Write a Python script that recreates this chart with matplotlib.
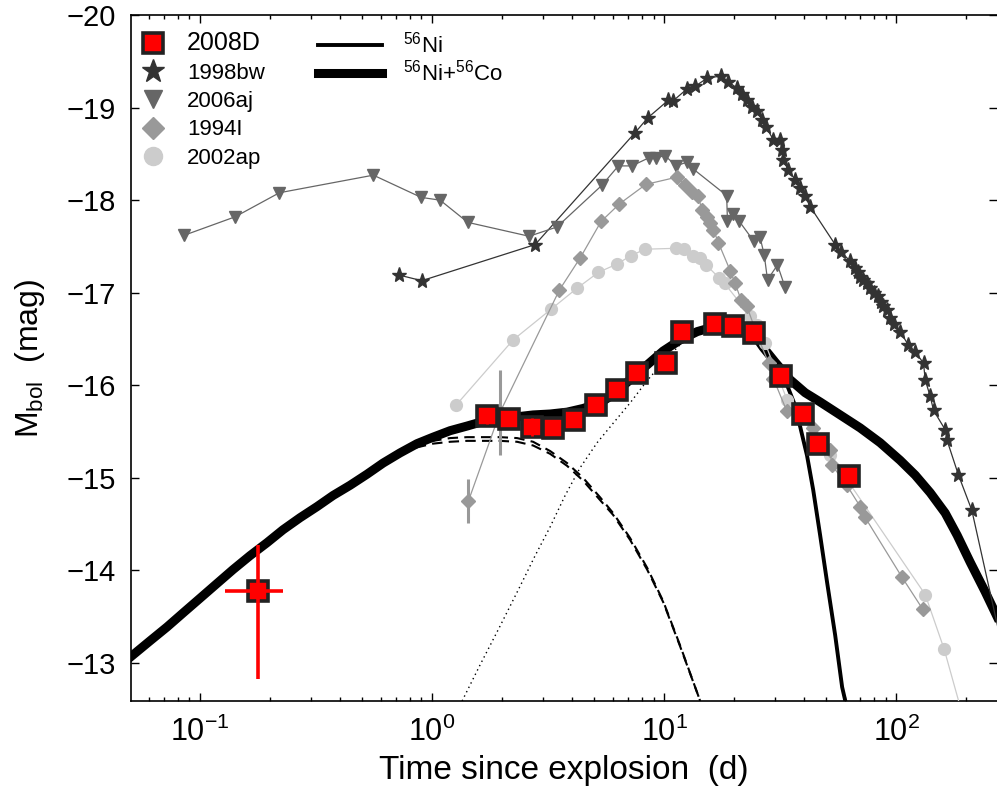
import numpy as np
import matplotlib.pyplot as plt
from matplotlib.lines import Line2D

plt.rcParams['font.family'] = ['Liberation Sans', 'DejaVu Sans']
plt.rcParams['mathtext.fontset'] = 'custom'
plt.rcParams['mathtext.rm'] = 'Liberation Sans'
plt.rcParams['mathtext.it'] = 'Liberation Sans:italic'
plt.rcParams['mathtext.bf'] = 'Liberation Sans:bold'

# SN 2008D bolometric magnitudes (days since explosion)
t_08d = [1.73, 2.15, 2.69, 3.31, 4.09, 5.08, 6.25, 7.63, 10.2, 11.9, 16.5, 19.9, 24.3, 31.8, 39.5, 46.0, 62.7]
m_08d = [-15.67, -15.64, -15.55, -15.54, -15.63, -15.79, -15.95, -16.13, -16.24,
         -16.58, -16.66, -16.64, -16.56, -16.10, -15.69, -15.37, -15.02]
e_08d = [0.09, 0, 0.1, 0.08, 0, 0, 0, 0, 0, 0, 0, 0, 0, 0, 0, 0, 0]
# first epoch (X-ray outburst)
t_first, m_first = 0.178, -13.78
t_first_err = [[0.050], [0.050]]
m_first_err = [[0.50], [0.95]]

# comparison SNe
t_98bw = [0.723, 0.903, 2.78, 7.50, 8.51, 10.43, 10.9, 12.53, 13.6, 15.37, 17.55, 18.93, 20.58, 21.6,
          22.73, 23.88, 25.1, 26.4, 27.5, 29.6, 31.6, 32.2, 32.5, 34.3, 36.7, 38.6, 40.5, 42.6, 54.6,
          58.0, 63.4, 66.6, 68.5, 70.0, 72.3, 75.0, 77.3, 80.0, 83.9, 86.0, 88.0, 91.2, 94.2, 98.0,
          104, 112.6, 120.8, 131.2, 133.4, 140.2, 144.9, 162.7, 165.5, 185.6, 211.9, 295]
m_98bw = [-17.19, -17.13, -17.52, -18.73, -18.89, -19.08, -19.07, -19.20, -19.23, -19.32, -19.34, -19.28,
          -19.21, -19.15, -19.08, -19.01, -18.96, -18.87, -18.79, -18.65, -18.65, -18.54, -18.43, -18.33,
          -18.22, -18.13, -18.04, -17.93, -17.52, -17.44, -17.34, -17.27, -17.22, -17.17, -17.14, -17.10,
          -17.05, -17.00, -16.96, -16.90, -16.86, -16.81, -16.73, -16.66, -16.58, -16.44, -16.36, -16.24,
          -16.06, -15.88, -15.73, -15.52, -15.41, -15.03, -14.65, -13.03]

t_06aj = [0.0853, 0.1416, 0.2198, 0.5585, 0.897, 1.083, 1.425, 2.62, 3.45, 5.39, 6.35, 7.26, 8.64, 9.24,
          10.1, 11.26, 12.53, 13.3, 18.6, 18.75, 19.9, 21.1, 24.3, 25.9, 27.0, 27.9, 30.8, 33.2]
m_06aj = [-17.62, -17.82, -18.08, -18.27, -18.03, -18.00, -17.76, -17.61, -17.71, -18.16, -18.37, -18.37,
          -18.46, -18.46, -18.48, -18.37, -18.41, -18.34, -18.05, -17.77, -17.85, -17.77, -17.56, -17.60,
          -17.41, -17.14, -17.30, -17.06]

t_94i = [1.434, 1.964, 3.538, 4.357, 5.35, 6.42, 8.34, 11.41, 12.32, 13.17, 14.06, 14.54, 15.28, 15.79,
         16.31, 17.14, 19.25, 20.23, 21.48, 22.68, 25.2, 28.2, 29.6, 33.8, 44.0, 51.9, 52.8, 61.3, 70.0,
         73.2, 105.8, 130.3]
m_94i = [-14.75, -15.71, -17.03, -17.38, -17.77, -17.96, -18.17, -18.25, -18.16, -18.09, -18.04, -17.89,
         -17.82, -17.75, -17.68, -17.54, -17.24, -17.10, -16.92, -16.86, -16.54, -16.24, -16.07, -15.72,
         -15.54, -15.30, -15.14, -14.92, -14.69, -14.58, -13.93, -13.58]
e_94i = [0.24, 0.46] + [0] * 30

t_02ap = [1.273, 2.234, 3.25, 4.22, 5.21, 6.26, 7.19, 8.26, 11.26, 12.23, 13.3, 14.3, 15.17, 17.27, 18.23,
          23.5, 25.2, 27.2, 33.9, 51.9, 133.4, 161, 219]
m_02ap = [-15.79, -16.49, -16.82, -17.05, -17.22, -17.31, -17.40, -17.47, -17.48, -17.47, -17.40, -17.38,
          -17.30, -17.16, -17.10, -16.75, -16.65, -16.46, -15.84, -15.25, -13.74, -13.15, -11.95]

# model light curves: 56Ni+56Co (full), shared rise of the 56Ni-only model
t_mod = [0.0504, 0.0609, 0.0721, 0.0853, 0.100, 0.1184, 0.1388, 0.1642, 0.1944, 0.2279, 0.2698, 0.3194,
         0.3743, 0.4432, 0.5246, 0.6149, 0.7278, 0.8616, 1.010, 1.196, 1.415, 1.659, 1.964, 2.325, 2.725,
         3.226, 3.818, 4.476, 5.298, 6.029, 7.136, 8.447, 9.901, 11.72, 13.88, 16.26, 18.33, 20.64, 23.49,
         26.72]
m_mod = [-13.07, -13.24, -13.39, -13.55, -13.70, -13.86, -14.01, -14.16, -14.30, -14.44, -14.57, -14.69,
         -14.81, -14.92, -15.04, -15.16, -15.27, -15.37, -15.44, -15.51, -15.56, -15.61, -15.64, -15.66,
         -15.68, -15.69, -15.71, -15.75, -15.81, -15.90, -16.06, -16.22, -16.37, -16.49, -16.58, -16.63,
         -16.66, -16.65, -16.61, -16.41]
t_co_tail = [30.09, 34.92, 40.53, 47.03, 57.37, 69.96, 85.31, 104.0, 120.8, 140.2, 162.7, 183.2, 208.4,
             241.9, 272.4]
m_co_tail = [-16.25, -16.06, -15.92, -15.82, -15.68, -15.54, -15.38, -15.19, -15.03, -14.84, -14.62,
             -14.38, -14.09, -13.77, -13.50]
t_ni_tail = [30.09, 31.6, 33.9, 36.3, 38.6, 41.3, 43.9, 47.03, 50.4, 54.6, 58.5, 60.9]
m_ni_tail = [-16.25, -16.17, -16.00, -15.81, -15.55, -15.24, -14.87, -14.38, -13.87, -13.30, -12.74, -12.55]

# envelope cooling (two runs) and 56Ni heating components
t_env = [0.7278, 0.8616, 1.010, 1.196, 1.415, 1.659, 1.964, 2.325, 2.725, 3.226, 3.818, 4.476, 5.298,
         6.029, 7.136, 8.447, 9.901, 11.72, 13.88, 14.3]
m_env_a = [-15.27, -15.35, -15.40, -15.43, -15.44, -15.44, -15.44, -15.43, -15.39, -15.29, -15.16, -15.00,
           -14.79, -14.62, -14.35, -14.03, -13.67, -13.19, -12.68, -12.59]
m_env_b = [-15.27, -15.33, -15.37, -15.39, -15.40, -15.40, -15.40, -15.39, -15.35, -15.26, -15.13, -14.97,
           -14.76, -14.60, -14.33, -14.01, -13.66, -13.18, -12.68, -12.59]
t_heat = [1.347, 1.610, 1.964, 2.395, 2.780, 3.226, 3.744, 4.345, 5.143, 6.029, 7.136, 8.447, 9.901, 11.72,
          13.88]
m_heat = [-12.59, -12.98, -13.40, -13.83, -14.16, -14.47, -14.81, -15.11, -15.38, -15.59, -15.81, -16.05,
          -16.25, -16.44, -16.57]

fig = plt.figure(figsize=(9.97, 7.89), dpi=100)
ax = fig.add_axes([131 / 997, 88 / 789, 866 / 997, 686 / 789])

# models
ax.plot(t_mod + t_co_tail, m_mod + m_co_tail, color='black', lw=6.5, zorder=2)
ax.plot(t_mod[:19], m_mod[:19], color='#c8c8c8', lw=0.5, zorder=2.1)
ax.plot(t_mod + t_ni_tail, m_mod + m_ni_tail, color='black', lw=2.8, zorder=2.2)
ax.plot(t_env, m_env_a, color='black', lw=1.5, ls=(0, (5, 3)), zorder=1.9)
ax.plot(t_env, m_env_b, color='black', lw=1.5, ls=(0, (5, 3)), zorder=1.9)
ax.plot(t_heat, m_heat, color='black', lw=1.0, ls=(0, (1, 2.5)), zorder=1.9)

# comparison objects
ax.plot(t_98bw, m_98bw, '-', color='#333333', lw=0.9, marker='*', ms=11, mec='#333333', zorder=3)
ax.plot(t_06aj, m_06aj, '-', color='#666666', lw=0.9, marker='v', ms=9, mec='#666666', zorder=3)
ax.errorbar(t_94i, m_94i, yerr=e_94i, fmt='none', ecolor='#999999', elinewidth=2.2, capsize=0, zorder=3)
ax.plot(t_94i, m_94i, '-', color='#999999', lw=0.9, marker='D', ms=7.5, mec='#999999', zorder=3)
ax.plot(t_02ap, m_02ap, '-', color='#cccccc', lw=0.9, marker='o', ms=8.5, mec='#cccccc', zorder=2.9)

# SN 2008D
ax.plot(t_08d + [t_first], m_08d + [m_first], 's', color='red', ms=15, mec='#222222', mew=2.6, zorder=5)
ax.errorbar(t_08d, m_08d, yerr=e_08d, fmt='none', ecolor='red', elinewidth=2, capsize=0, zorder=6)
ax.errorbar([t_first], [m_first], xerr=t_first_err, yerr=m_first_err, fmt='none', ecolor='red',
            elinewidth=2.6, capsize=0, zorder=6)

ax.set_xscale('log')
ax.set_xlim(0.0504, 272)
ax.set_ylim(-12.59, -20)
ax.set_yticks(np.arange(-20, -12, 1))
ax.tick_params(which='both', direction='in', top=True, right=True, width=1)
ax.tick_params(which='major', length=6)
ax.tick_params(which='minor', length=3)
ax.tick_params(axis='x', labelsize=22, pad=11)
ax.tick_params(axis='y', labelsize=21, pad=11)
ax.spines['right'].set_visible(False)
for s in ('left', 'top', 'bottom'):
    ax.spines[s].set_linewidth(1.2)

ax.set_xlabel('Time since explosion  (d)', fontsize=24, labelpad=5)
ax.set_ylabel(r'M$_{\rm bol}$  (mag)', fontsize=23)
ax.yaxis.set_label_coords(-0.097, 0.5)

# legends: objects (markers only) and model curves
sn_handles = [
    Line2D([], [], ls='none', marker='s', ms=15, mfc='red', mec='#222222', mew=2.6, label='2008D'),
    Line2D([], [], ls='none', marker='*', ms=17, color='#333333', label='1998bw'),
    Line2D([], [], ls='none', marker='v', ms=13, color='#666666', label='2006aj'),
    Line2D([], [], ls='none', marker='D', ms=11, color='#999999', label='1994I'),
    Line2D([], [], ls='none', marker='o', ms=13, color='#cccccc', label='2002ap'),
]
leg1 = ax.legend(handles=sn_handles, loc='upper left', bbox_to_anchor=(0.0075, 0.976), frameon=False,
                 fontsize=16, handlelength=1.4, handletextpad=0.83, labelspacing=0.33, borderpad=0,
                 borderaxespad=0)
leg1.get_texts()[0].set_fontsize(18)
ax.add_artist(leg1)

model_handles = [
    Line2D([], [], color='black', lw=2.8, label=r'$^{56}$Ni'),
    Line2D([], [], color='black', lw=6.5, label=r'$^{56}$Ni+$^{56}$Co'),
]
ax.legend(handles=model_handles, loc='upper left', bbox_to_anchor=(0.216, 0.976), frameon=False,
          fontsize=16, handlelength=2.88, handletextpad=0.95, labelspacing=0.12, borderpad=0,
          borderaxespad=0)

fig.savefig('out.png', dpi=100)
